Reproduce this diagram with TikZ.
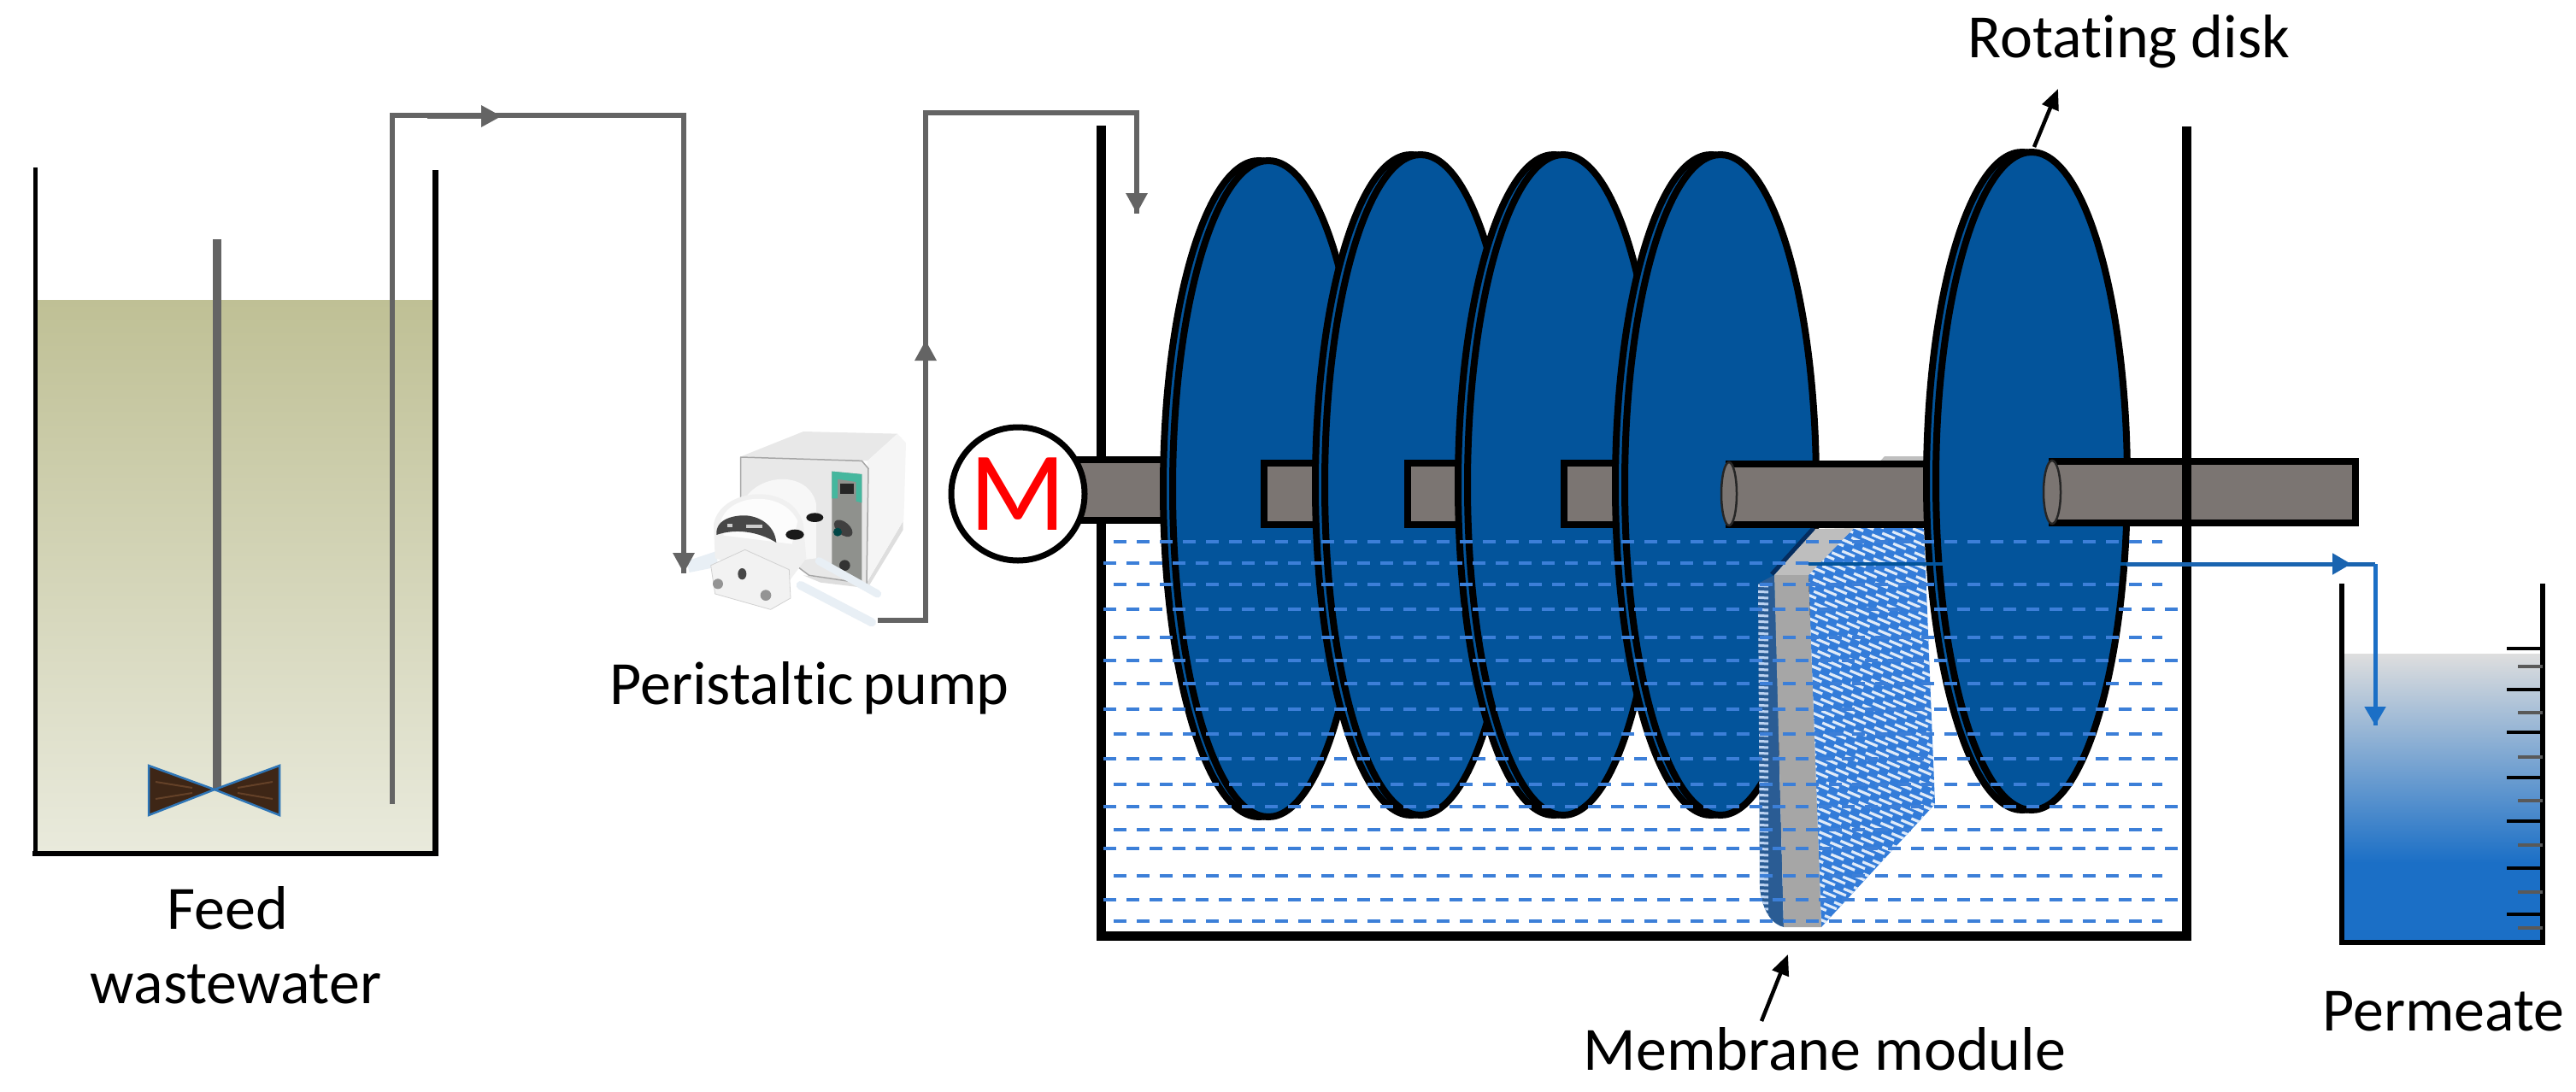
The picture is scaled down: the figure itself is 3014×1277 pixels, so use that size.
\documentclass[tikz,border=0pt]{standalone}
\usepackage{fontspec}
\setmainfont[Ligatures=NoCommon]{Carlito}
\usetikzlibrary{arrows.meta,calc}
\definecolor{diskblue}{HTML}{03549B}
\definecolor{shaftgray}{HTML}{7B7572}
\definecolor{pipegray}{HTML}{646464}
\definecolor{waterdash}{HTML}{3C7FD8}
\definecolor{permblue}{HTML}{1B6FC6}
\definecolor{permdark}{HTML}{1A64B0}
\definecolor{hatchblue}{HTML}{337CD9}
\definecolor{feedtop}{HTML}{BFC095}
\definecolor{feedbot}{HTML}{E9EADC}
\definecolor{wooddark}{HTML}{3E2616}
\definecolor{woodlight}{HTML}{644128}
\definecolor{bladeedge}{HTML}{2E75B6}
\definecolor{permtop}{HTML}{DEDEDE}
\definecolor{stripdark}{HTML}{2A5C94}
\definecolor{mtop}{HTML}{BEBEBE}
\definecolor{mfront}{HTML}{A6A6A6}
\definecolor{medge}{HTML}{052D5F}
\definecolor{tube}{HTML}{E8EFF5}
\definecolor{panelgray}{HTML}{8F918D}
\definecolor{panelteal}{HTML}{45B79E}
\tikzset{
  lab/.style={anchor=base,inner sep=0pt,font=\fontsize{72}{84}\selectfont,text=black},
  wall/.style={black,line width=#1,line cap=butt},
  pipe/.style={pipegray,line width=6pt},
  pipehead/.style={pipegray,line width=6pt,-{Triangle[length=24pt,width=24pt]}},
  permpipe/.style={permblue,line width=5pt},
  permhead/.style={permblue,line width=5pt,-{Triangle[length=22pt,width=24pt]}},
  pointer/.style={black,line width=4.5pt,-{Triangle[length=24pt,width=20pt]}},
  shaft/.style={fill=shaftgray,draw=black,line width=8pt},
  disk/.style={fill=diskblue,draw=black,line width=8pt},
  wdash/.style={waterdash,line width=4.5pt,dash pattern=on 15pt off 12pt},
  ptube/.style={color=tube,line cap=round},
  bigtick/.style={black,line width=4pt},
  smalltick/.style={black!65,line width=3.5pt},
}
\newcommand{\rotdisk}[3]{% centre x, top, bottom
  \draw[disk] ({#1-11},{(#2+#3)/2}) ellipse [x radius=112pt,y radius={(#3-#2)/2*1pt}];
  \draw[disk] (#1,{(#2+#3)/2}) ellipse [x radius=112pt,y radius={(#3-#2)/2*1pt}];
}
\begin{document}
\begin{tikzpicture}[x=1pt,y=-1pt]
\useasboundingbox (0,0) rectangle (3014,1277);
\fill[white] (0,0) rectangle (3014,1277);

% ---------- named points
\coordinate (dipB) at (459,941);
\coordinate (dipT) at (459,135);
\coordinate (pumpInT) at (800,135);
\coordinate (pumpIn) at (800,671);
\coordinate (midA0) at (500,136);
\coordinate (midA) at (587,136);
\coordinate (pumpOut) at (1027,726);
\coordinate (riseB) at (1083,726);
\coordinate (riseT) at (1083,132);
\coordinate (riseM) at (1083,398);
\coordinate (tankInT) at (1330,132);
\coordinate (tankIn) at (1330,250);
\coordinate (modOut) at (2116,660);
\coordinate (diskR) at (2488,660);
\coordinate (permC) at (2779,660);
\coordinate (permM) at (2751,660);
\coordinate (permIn) at (2779,849);
\coordinate (diskTop) at (2380,172);
\coordinate (diskLab) at (2408,104);
\coordinate (modBot) at (2061,1195);
\coordinate (modTip) at (2092,1117);

% ---------- feed tank
\shade[top color=feedtop,bottom color=feedbot] (43,351) rectangle (506,997);
\draw[wall=5pt] (41,196) -- (41,999);
\draw[wall=7pt] (509,199) -- (509,1002);
\draw[wall=6pt] (38,999) -- (512,999);
\draw[pipegray,line width=10pt] (254,280) -- (254,924);
\foreach \s/\e in {174/251,327/251}{
  \filldraw[fill=wooddark,draw=bladeedge,line width=2.5pt]
    (\s,896) -- (\e,924) -- (\s,954) -- cycle;
}
\draw[woodlight,line width=2pt] (182,915) -- (225,922) (182,935) -- (225,928) (319,915) -- (278,922) (319,935) -- (278,928);

% ---------- pipes from feed to tank
\draw[pipe,line join=miter] (dipB) -- (dipT) -- (pumpInT) -- (pumpIn);
\draw[pipehead] (midA0) -- (midA);

% ---------- pump (drawn in a local grid of third-pixels)
\begin{scope}[shift={(760,440)},scale=1/3]
  \fill[tube] (130,650) -- (235,615) -- (240,670) -- (140,690) -- cycle;
  \fill[black!13] (540,700) -- (760,730) -- (890,510) -- (890,540) -- (765,745) -- (600,725) -- cycle;
  \fill[black!9] (320,283) -- (540,195) -- (870,203) -- (765,298) -- cycle;
  \fill[black!4] (765,298) -- (870,203) -- (900,235) -- (892,505) -- (762,725) -- cycle;
  \filldraw[fill=black!9,draw=black!35,line width=1.5pt,line join=round] (320,285) -- (745,298) -- (768,325) -- (762,730) -- (560,700) -- (320,520) -- cycle;
  \fill[panelgray] (640,335) -- (745,345) -- (745,728) -- (640,690) -- cycle;
  \fill[panelteal] (640,335) -- (745,345) -- (745,445) -- (725,440) -- (725,372) -- (660,362) -- (660,430) -- (640,430) -- cycle;
  \fill[black!85] (668,378) rectangle (718,415);
  \fill[black!75,rotate around={-40:(680,535)}] (680,535) ellipse [x radius=38pt,y radius=22pt];
  \fill[teal!55!black] (660,548) circle [radius=15pt];
  \fill[black!80] (685,665) circle [radius=19pt];
  \draw[ptube,line width=9pt] (595,650) -- (800,765);
  \draw[ptube,line width=10pt] (530,735) -- (780,865);
  \fill[black!3] (330,440) .. controls (380,340) and (560,330) .. (585,450) -- (585,640) -- (420,660) -- cycle;
  \fill[black!6] (225,520) .. controls (250,390) and (500,370) .. (540,520) -- (550,640) -- (490,720) -- (230,640) -- cycle;
  \fill[black!1] (250,510) .. controls (280,410) and (470,400) .. (520,510) -- (500,590) -- (260,560) -- cycle;
  \fill[black!72] (235,558) .. controls (230,500) and (300,488) .. (340,490) .. controls (395,495) and (440,530) .. (445,585) .. controls (380,545) and (300,535) .. (235,558) -- cycle;
  \fill[black!20] (272,520) rectangle (292,532);
  \fill[black!20] (340,522) rectangle (395,534);
  \filldraw[fill=black!5,draw=black!18,line width=.8pt,line join=round] (215,665) -- (335,610) -- (490,680) -- (495,780) -- (425,820) -- (230,765) -- cycle;
  \fill[black!42] (240,730) circle [radius=18pt];
  \fill[black!42] (408,770) circle [radius=19pt];
  \fill[black!72] (325,695) ellipse [x radius=15pt,y radius=20pt];
  \fill[black!90] (580,497) ellipse [x radius=30pt,y radius=16pt];
  \fill[black!90] (510,557) ellipse [x radius=32pt,y radius=18pt];
\end{scope}
\draw[pipehead] (pumpInT) -- (pumpIn);
\draw[pipe,line join=miter] (pumpOut) -- (riseB) -- (riseT) -- (tankInT) -- (tankIn);
\draw[pipehead] (riseB) -- (riseM);
\draw[pipehead] (tankInT) -- (tankIn);

% ---------- reactor: back parts
\draw[wall=11pt] (1288,147) -- (1288,1092);
\draw[wall=11pt] (1283,1095) -- (2564,1095);

% shaft and disks, back to front
\draw[shaft] (1240,538) rectangle (1400,609);
\rotdisk{1484}{188}{956}
\draw[shaft] (1479,542) rectangle (1600,614);
\rotdisk{1662}{181}{954}
\draw[shaft] (1647,542) rectangle (1770,614);
\rotdisk{1829}{181}{954}
\draw[shaft] (1830,542) rectangle (1950,614);
\rotdisk{2013}{181}{954}

% ---------- membrane module
\coordinate (mA) at (2116,671);
\coordinate (mB) at (2169,618);
\coordinate (mC) at (2251,618);
\coordinate (mD) at (2264,941);
\coordinate (mE) at (2131,1085);
\fill[black!25] (2205,534) -- (2251,534) -- (2251,545) -- (2195,545) -- cycle;
\fill[hatchblue] (mA) -- (mB) -- (mC) -- (mD) -- (mE) -- cycle;
\begin{scope}
  \clip (mA) -- (mB) -- (mC) -- (mD) -- (mE) -- cycle;
  \foreach \i in {0,...,100}{
    \pgfmathsetmacro{\yy}{540+6.8*\i}
    \pgfmathsetmacro{\ph}{mod(\i*13,27)}
    \draw[white!85!hatchblue,line width=3.2pt,dash pattern=on 16pt off 11pt,dash phase=\ph pt] (2100,\yy) -- (2280,\yy+76);
  }
\end{scope}
\fill[stripdark] (2057,683) -- (2076,673) -- (2087,1085) .. controls (2075,1082) and (2063,1070) .. (2059,1040) -- cycle;
\begin{scope}
  \clip (2057,683) -- (2076,673) -- (2087,1085) .. controls (2075,1082) and (2063,1070) .. (2059,1040) -- cycle;
  \foreach \i in {0,...,56}{
    \pgfmathsetmacro{\yy}{685+7*\i}
    \draw[white!65!waterdash,line width=3pt] (2050,\yy) -- (2069,\yy+1);
  }
\end{scope}
\fill[mtop] (2076,673) -- (2123,619) -- (2169,618) -- (2116,673) -- cycle;
\fill[mfront] (2076,673) -- (2116,673) -- (2131,1085) -- (2087,1085) -- cycle;
\draw[medge,line width=5pt] (2073,672) -- (2122,618);

% ---------- shaft in front of the module, last disk
\draw[black,line width=8pt,fill=shaftgray] (2023,543) rectangle (2262,614);
\filldraw[fill=shaftgray,draw=black!85,line width=2.5pt] (2023,578) ellipse [x radius=9pt,y radius=37pt];
\rotdisk{2377}{178}{948}
\draw[black,line width=8pt,fill=shaftgray] (2401,540) rectangle (2756,612);
\filldraw[fill=shaftgray,draw=black!85,line width=2.5pt] (2401,576) ellipse [x radius=10pt,y radius=37pt];
\draw[wall=11pt] (2558,148) -- (2558,1100);

% ---------- water level dashes
\foreach \y/\a/\b in {634/1303/2530,684/1303/2530,746/1303/2530,800/1303/2530,859/1303/2530,918/1303/2530,971/1303/2530,1025/1303/2530,1078/1303/2530,
                      659/1291/2116,713/1291/2557,773/1291/2557,830/1291/2557,888/1291/2557,944/1291/2557,993/1291/2557,1053/1291/2557}{
  \draw[wdash] (\a,\y) -- (\b,\y);
}

% ---------- permeate line and vessel
\shade[top color=permtop,bottom color=permblue] (2743,765) rectangle (2972,1010);
\fill[permblue] (2743,1009) rectangle (2972,1101);
\draw[wall=6pt] (2740,683) -- (2740,1103);
\draw[wall=6pt] (2975,683) -- (2975,1103);
\draw[wall=6pt] (2737,1103) -- (2978,1103);
\foreach \y in {759,807,857,910,961,1016,1070}{\draw[bigtick] (2933,\y) -- (2975,\y);}
\foreach \y in {780,834,886,937,989,1044,1086}{\draw[smalltick] (2946,\y) -- (2975,\y);}
\draw[diskblue,line width=3.5pt] (modOut) -- (diskR);
\draw[permdark,line width=5pt] (diskR) -- (permC);
\draw[permpipe,line join=miter] (permC) -- (permIn);
\draw[permhead,permdark] (2700,660) -- (permM);
\draw[permhead] (permC) -- (permIn);

% ---------- motor
\node[circle,draw=black,fill=white,line width=7pt,minimum size=156pt,inner sep=0pt,font=\fontsize{132}{135}\selectfont,text=red] (motor) at (1191,578) {M};

% ---------- pointers
\draw[pointer] (diskTop) -- (diskLab);
\draw[pointer] (modBot) -- (modTip);

% ---------- labels
\node[lab] (feed) at (266,1087) {Feed};
\node[lab] (ww) at (276,1174) {wastewater};
\node[lab] (pp) at (947,824) {Peristaltic\hspace{-6pt} pump};
\node[lab] (rd) at (2491,67) {Rotating disk};
\node[lab] (mm) at (2135,1252) {Membrane module};
\node[lab] (pe) at (2859,1206) {Permeate};
\end{tikzpicture}
\end{document}
